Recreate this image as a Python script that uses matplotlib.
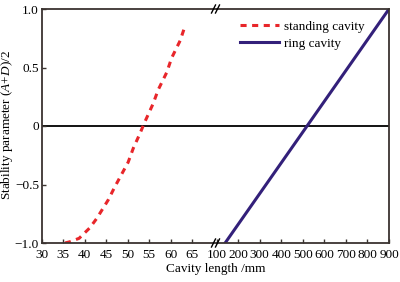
import matplotlib
matplotlib.use("Agg")
import matplotlib.pyplot as plt

# data
standing_x = [35.4, 36.5, 38.7, 41.2, 42.8, 45.5, 47.0, 50.1, 51.3, 52.9, 53.8, 55.9, 57.1, 59.1, 60.2, 62.2, 63.2]
standing_y = [-1.0, -0.99, -0.96, -0.87, -0.79, -0.63, -0.52, -0.31, -0.19, -0.06, 0.02, 0.19, 0.31, 0.46, 0.58, 0.73, 0.84]
ring_x = [140, 520, 900]
ring_y = [-1.0, 0.0, 1.0]

left_ticks = [30, 35, 40, 45, 50, 55, 60, 65]
right_ticks = [100, 200, 300, 400, 500, 600, 700, 800, 900]
y_ticks = [-1.0, -0.5, 0, 0.5, 1.0]
y_ticklabels = ["\u22121.0", "\u22120.5", "0", "0.5", "1.0"]

plt.rcParams["font.family"] = ["Liberation Serif", "DejaVu Serif"]
plt.rcParams["font.size"] = 9.5
plt.rcParams["mathtext.fontset"] = "custom"
plt.rcParams["mathtext.rm"] = "Liberation Serif"
plt.rcParams["mathtext.it"] = "Liberation Serif:italic"

spine_col = "#3a3330"
red = "#e8262a"
purple = "#33207a"

W, H = 400, 282
fig = plt.figure(figsize=(W / 100, H / 100), dpi=100)
x0, xb, x1 = 41.7, 216.5, 389
yb, yt = 243, 9
ax1 = fig.add_axes([x0 / W, 1 - yb / H, (xb - x0) / W, (yb - yt) / H])
ax2 = fig.add_axes([xb / W, 1 - yb / H, (x1 - xb) / W, (yb - yt) / H])

for ax in (ax1, ax2):
    ax.set_ylim(-1.0, 1.0)
    ax.axhline(0, color="black", lw=1.3, zorder=1)
    for s in ax.spines.values():
        s.set_color(spine_col)
        s.set_linewidth(1.3)
    ax.tick_params(direction="in", length=3, width=1, color=spine_col, pad=2)
    ax.tick_params(axis="x", pad=4)

ax1.plot(standing_x, standing_y, color=red, lw=2.2, ls=(0, (2.0, 1.8)), label="standing cavity")
ax1.set_xlim(30, 70.65)
ax1.set_xticks(left_ticks)
ax1.set_yticks(y_ticks)
ax1.set_yticklabels(y_ticklabels)
ax1.spines["right"].set_visible(False)

ax2.plot(ring_x, ring_y, color=purple, lw=2.2, label="ring cavity")
ax2.set_xlim(100, 900)
ax2.set_xticks(right_ticks)
ax2.spines["left"].set_visible(False)
ax2.tick_params(axis="y", left=False, labelleft=False)

h1, l1 = ax1.get_legend_handles_labels()
h2, l2 = ax2.get_legend_handles_labels()
ax2.legend(h1 + h2, l1 + l2, loc="upper right", bbox_to_anchor=(0.93, 1.0),
           frameon=False, handlelength=3.0, handletextpad=0.4, labelspacing=0.35)

# break marks
for yy in (yt, yb):
    for dx in (-3, 1):
        fig.add_artist(plt.Line2D([(xb + dx - 2) / W, (xb + dx + 2) / W],
                                  [1 - (yy + 4) / H, 1 - (yy - 4) / H],
                                  color="black", lw=1.0))

fig.text(7 / W, 1 - 125 / H, r"Stability parameter ($\mathit{A}$+$\mathit{D}$)/2",
         rotation=90, ha="center", va="center")
fig.text((x0 + x1) / 2 / W, 1 - 269 / H, "Cavity length /mm", ha="center", va="center")

fig.savefig("out.png", dpi=100)
